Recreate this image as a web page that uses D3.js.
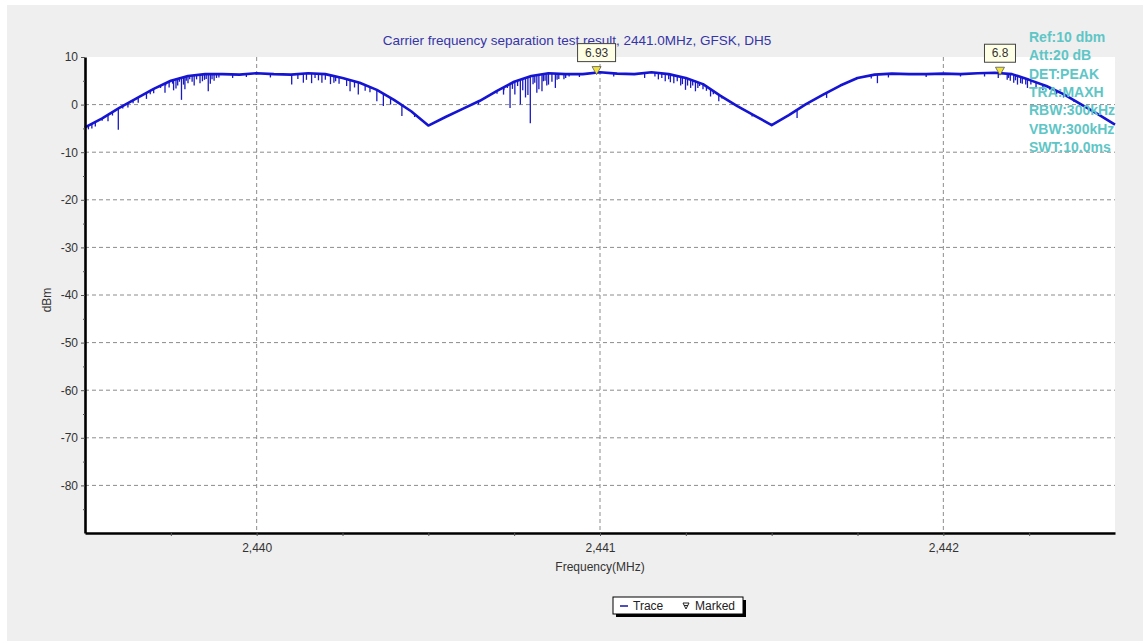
<!DOCTYPE html>
<html>
<head>
<meta charset="utf-8">
<script src="https://cdn.jsdelivr.net/npm/d3@7"></script>
<style>
  body { margin: 0; background: #fff; }
  svg { display: block; font-family: "Liberation Sans", Arial, sans-serif; }
</style>
</head>
<body>
<svg width="1146" height="643"></svg>
<script>
// trace envelope (MHz, dBm)
var traceFreq = [2439.50, 2439.55, 2439.60, 2439.65, 2439.70, 2439.75, 2439.80, 2439.85, 2439.90, 2439.95,
                 2440.00, 2440.05, 2440.10, 2440.15, 2440.20, 2440.25, 2440.30, 2440.35, 2440.40, 2440.45,
                 2440.50, 2440.55, 2440.60, 2440.65, 2440.70, 2440.75, 2440.80, 2440.85, 2440.90, 2440.95,
                 2441.00, 2441.05, 2441.10, 2441.15, 2441.20, 2441.25, 2441.30, 2441.35, 2441.40, 2441.45,
                 2441.50, 2441.55, 2441.60, 2441.65, 2441.70, 2441.75, 2441.80, 2441.85, 2441.90, 2441.95,
                 2442.00, 2442.05, 2442.10, 2442.15, 2442.20, 2442.25, 2442.30, 2442.35, 2442.40, 2442.45,
                 2442.50];
var traceLevel = [-4.8, -2.9, -0.7, 1.3, 3.3, 5.0, 6.0, 6.4, 6.4, 6.3,
                  6.6, 6.4, 6.3, 6.6, 6.4, 5.6, 4.6, 3.1, 1.0, -1.4,
                  -4.4, -2.6, -0.9, 0.8, 2.9, 4.8, 6.0, 6.6, 6.4, 6.4,
                  6.8, 6.5, 6.4, 6.8, 6.4, 5.6, 4.3, 1.9, -0.3, -2.3,
                  -4.3, -2.2, 0.1, 2.1, 4.0, 5.6, 6.3, 6.5, 6.4, 6.4,
                  6.5, 6.4, 6.6, 6.7, 6.4, 5.2, 3.9, 2.2, 0.1, -2.0,
                  -4.2];

// downward noise spikes on the trace (MHz, bottom dBm)
var spikeFreq = [2439.51, 2439.52, 2439.53, 2439.55, 2439.567, 2439.58, 2439.597, 2439.61, 2439.625, 2439.64,
                 2439.655, 2439.679, 2439.69, 2439.700, 2439.72, 2439.733, 2439.735, 2439.745, 2439.755, 2439.758,
                 2439.765, 2439.770, 2439.775, 2439.781, 2439.787, 2439.791, 2439.795, 2439.800, 2439.805, 2439.812,
                 2439.818, 2439.825, 2439.835, 2439.842, 2439.848, 2439.853, 2439.859, 2439.865, 2439.870, 2439.876,
                 2439.883, 2439.89, 2439.93, 2439.97, 2440.04, 2440.102, 2440.12, 2440.136, 2440.145, 2440.16,
                 2440.17, 2440.18, 2440.19, 2440.20, 2440.215, 2440.225, 2440.23, 2440.24, 2440.262, 2440.272,
                 2440.285, 2440.296, 2440.316, 2440.33, 2440.35, 2440.369, 2440.39, 2440.41, 2440.423, 2440.46,
                 2440.646, 2440.70, 2440.719, 2440.72, 2440.73, 2440.738, 2440.745, 2440.752, 2440.76, 2440.768,
                 2440.775, 2440.783, 2440.79, 2440.797, 2440.805, 2440.81, 2440.816, 2440.822, 2440.831, 2440.835,
                 2440.84, 2440.845, 2440.85, 2440.86, 2440.87, 2440.875, 2440.88, 2440.895, 2440.90, 2440.91,
                 2440.94, 2441.04, 2441.13, 2441.16, 2441.17, 2441.18, 2441.19, 2441.20, 2441.205, 2441.215,
                 2441.225, 2441.235, 2441.24, 2441.249, 2441.255, 2441.264, 2441.27, 2441.278, 2441.285, 2441.29,
                 2441.30, 2441.31, 2441.322, 2441.33, 2441.346, 2441.355, 2441.38, 2441.414, 2441.42, 2441.443,
                 2441.574, 2441.66, 2441.79, 2441.808, 2441.84, 2441.95, 2442.05, 2442.12, 2442.16, 2442.186,
                 2442.19, 2442.195, 2442.205, 2442.21, 2442.216, 2442.225, 2442.23, 2442.24, 2442.245, 2442.255,
                 2442.27, 2442.29, 2442.31, 2442.33, 2442.35, 2442.38];
var spikeLevel = [-5.2, -5.0, -4.6, -3.4, -3.5, -2.3, -5.3, -0.8, -0.6, 0.3,
                  0.4, 1.2, 2.2, 2.4, 3.5, 2.5, 4.0, 3.6, 4.4, 3.0,
                  3.4, 4.0, 4.8, 1.0, 4.2, 3.2, 5.0, 4.5, 5.3, 4.8,
                  4.0, 5.3, 4.5, 4.9, 5.2, 5.4, 2.8, 4.4, 5.3, 5.0,
                  5.6, 5.7, 5.6, 5.8, 5.7, 4.2, 5.4, 4.6, 5.2, 4.5,
                  5.6, 5.1, 4.6, 5.2, 4.3, 4.6, 4.9, 4.4, 3.9, 2.8,
                  3.6, 2.1, 2.9, 2.6, 0.7, -0.3, 0.0, 0.3, -2.4, -2.6,
                  0.0, 2.3, 2.1, 3.0, 3.5, -0.7, 3.3, 2.1, 3.9, 0.0,
                  3.0, 1.5, 2.0, -3.9, 4.3, 4.6, 2.5, 3.2, 2.8, 4.9,
                  5.0, 4.0, 4.2, 4.8, 3.5, 5.2, 5.4, 5.3, 5.6, 5.9,
                  5.8, 5.9, 5.6, 5.9, 5.3, 5.6, 4.9, 5.3, 4.7, 4.5,
                  4.9, 4.0, 4.3, 3.1, 4.0, 3.5, 4.0, 2.8, 3.5, 3.9,
                  3.2, 2.9, 1.7, 2.2, 0.7, 1.3, 0.5, -1.1, -0.9, -2.5,
                  -2.8, 1.4, 5.5, 4.5, 5.7, 5.8, 5.9, 5.9, 5.6, 5.2,
                  5.6, 5.0, 4.6, 5.1, 4.2, 4.5, 4.4, 4.2, 3.5, 4.2,
                  3.6, 3.0, 3.1, 2.2, 1.5, 0.6];

var markerFreq = [2440.99, 2442.165],
    markerLevel = [6.93, 6.8],
    markerText = ["6.93", "6.8"];

var yTicks = [10, 0, -10, -20, -30, -40, -50, -60, -70, -80],
    yMinor = [5, -5, -15, -25, -35, -45, -55, -65, -75, -85],
    xTicks = [2440, 2441, 2442],
    xMinor = [2439.75, 2440.25, 2440.5, 2440.75, 2441.25, 2441.5, 2441.75, 2442.25];

var infoLines = ["Ref:10 dbm", "Att:20 dB", "DET:PEAK", "TRA:MAXH", "RBW:300kHz", "VBW:300kHz", "SWT:10.0ms"];

var svg = d3.select("svg"),
    margin = {top: 57, right: 31, bottom: 110, left: 85},
    width = +svg.attr("width") - margin.left - margin.right,
    height = +svg.attr("height") - margin.top - margin.bottom;

// outer panel
svg.append("rect")
    .attr("x", 7).attr("y", 5)
    .attr("width", 1136).attr("height", 636)
    .attr("fill", "#efefef");

// title sits under the marker labels, as in the original
svg.append("text")
    .attr("x", 577).attr("y", 45)
    .attr("text-anchor", "middle")
    .attr("fill", "#3535a8")
    .style("font-size", "13.5px")
    .text("Carrier frequency separation test result, 2441.0MHz, GFSK, DH5");

var g = svg.append("g").attr("transform", "translate(" + margin.left + "," + margin.top + ")");

g.append("rect")
    .attr("width", width).attr("height", height)
    .attr("fill", "#fff");

var x = d3.scaleLinear()
    .domain([2439.5, 2442.5])
    .range([0, width]);

var y = d3.scaleLinear()
    .domain([-90, 10])
    .range([height, 0]);

// grid
g.append("g").selectAll("line")
  .data(yTicks.filter(function(d) { return d < 10; }))
  .enter().append("line")
    .attr("x1", 0).attr("x2", width)
    .attr("y1", function(d) { return y(d); }).attr("y2", function(d) { return y(d); })
    .attr("stroke", "#8c8c8c").attr("stroke-dasharray", "4,3");

g.append("g").selectAll("line")
  .data(xTicks)
  .enter().append("line")
    .attr("x1", function(d) { return x(d); }).attr("x2", function(d) { return x(d); })
    .attr("y1", 0).attr("y2", height)
    .attr("stroke", "#8c8c8c").attr("stroke-dasharray", "4,3");

// trace
var traceData = traceFreq.map(function(f, i) { return [f, traceLevel[i]]; });

function levelAt(f) {
  var i = d3.bisectLeft(traceFreq, f);
  if (i <= 0) return traceLevel[0];
  if (i >= traceFreq.length) return traceLevel[traceFreq.length - 1];
  var t = (f - traceFreq[i - 1]) / (traceFreq[i] - traceFreq[i - 1]);
  return traceLevel[i - 1] + t * (traceLevel[i] - traceLevel[i - 1]);
}

g.append("g").selectAll("line")
  .data(spikeFreq)
  .enter().append("line")
    .attr("x1", function(d) { return x(d); }).attr("x2", function(d) { return x(d); })
    .attr("y1", function(d) { return y(levelAt(d)); })
    .attr("y2", function(d, i) { return y(spikeLevel[i]); })
    .attr("stroke", "#1a1ac0").attr("stroke-width", 1.3);

g.append("path")
    .datum(traceData)
    .attr("fill", "none")
    .attr("stroke", "#1414d2")
    .attr("stroke-width", 2.6)
    .attr("stroke-linejoin", "round")
    .attr("d", d3.line()
        .x(function(d) { return x(d[0]); })
        .y(function(d) { return y(d[1]); }));

// axes
var yAxis = g.append("g")
    .call(d3.axisLeft(y).tickValues(yTicks).tickFormat(function(d) { return String(d); })
      .tickSize(4).tickPadding(3).tickSizeOuter(0));
g.append("g")
    .call(d3.axisLeft(y).tickValues(yMinor).tickSize(2).tickFormat("").tickSizeOuter(0))
    .select(".domain").remove();

var xAxis = g.append("g")
    .attr("transform", "translate(0," + height + ")")
    .call(d3.axisBottom(x).tickValues(xTicks).tickFormat(d3.format(",")).tickSize(3).tickPadding(7).tickSizeOuter(0));
g.append("g")
    .attr("transform", "translate(0," + height + ")")
    .call(d3.axisBottom(x).tickValues(xMinor).tickSize(3).tickFormat("").tickSizeOuter(0))
    .select(".domain").remove();

[yAxis, xAxis].forEach(function(a) {
  a.select(".domain").attr("stroke", "#000").attr("stroke-width", 2.6);
  a.selectAll("text").attr("fill", "#333").style("font-size", "12px").style("font-family", "Liberation Sans, Arial, sans-serif");
});
g.selectAll(".tick line").attr("stroke", "#555");

// markers
var mk = g.append("g").selectAll("g")
  .data(markerFreq)
  .enter().append("g")
    .attr("transform", function(d, i) { return "translate(" + x(d) + "," + y(markerLevel[i]) + ")"; });

mk.append("path")
    .attr("d", "M-4.5,-5L4.5,-5L0,3Z")
    .attr("fill", "#f2e33a").attr("stroke", "#555").attr("stroke-width", 0.8);

mk.append("rect")
    .attr("x", function(d, i) { return -(markerText[i].length * 7 + 10) / 2; })
    .attr("y", -28).attr("height", 18)
    .attr("width", function(d, i) { return markerText[i].length * 7 + 10; })
    .attr("fill", "#ffffe6").attr("stroke", "#444");

mk.append("text")
    .attr("y", -15)
    .attr("text-anchor", "middle")
    .attr("fill", "#333")
    .style("font-size", "12px")
    .text(function(d, i) { return markerText[i]; });

svg.append("text")
    .attr("x", 600).attr("y", 571)
    .attr("text-anchor", "middle")
    .attr("fill", "#333")
    .style("font-size", "12px")
    .text("Frequency(MHz)");

svg.append("text")
    .attr("transform", "translate(51,300) rotate(-90)")
    .attr("text-anchor", "middle")
    .attr("fill", "#333")
    .style("font-size", "12px")
    .text("dBm");

// instrument settings
svg.append("g").selectAll("text")
  .data(infoLines)
  .enter().append("text")
    .attr("x", 1029)
    .attr("y", function(d, i) { return 42 + i * 18.3; })
    .attr("fill", "#5ec6c6")
    .style("font-size", "14px")
    .style("font-weight", "bold")
    .text(function(d) { return d; });

// legend
var lg = svg.append("g").attr("transform", "translate(613,597)");
lg.append("rect").attr("x", 3).attr("y", 3).attr("width", 130).attr("height", 17).attr("fill", "#000");
lg.append("rect").attr("width", 130).attr("height", 17).attr("fill", "#fff").attr("stroke", "#000");
lg.append("line").attr("x1", 7).attr("x2", 15).attr("y1", 9).attr("y2", 9).attr("stroke", "#1414a0").attr("stroke-width", 1.5);
lg.append("text").attr("x", 20).attr("y", 13).attr("fill", "#222").style("font-size", "12px").text("Trace");
lg.append("path").attr("d", "M70,6L76,6L73,12Z M71,8.5L75,8.5").attr("fill", "none").attr("stroke", "#222").attr("stroke-width", 1);
lg.append("text").attr("x", 82).attr("y", 13).attr("fill", "#222").style("font-size", "12px").text("Marked");
</script>
</body>
</html>
